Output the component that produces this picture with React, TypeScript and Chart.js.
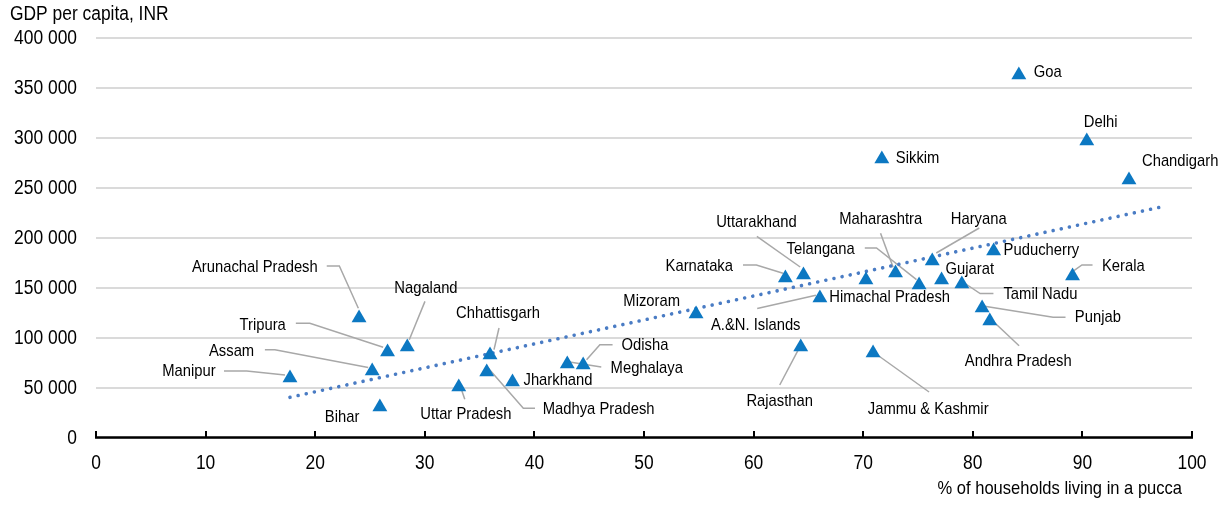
import React, { useEffect, useRef } from 'react';
import { Chart, registerables } from 'chart.js';

Chart.register(...registerables);

// ---------- data ----------
const states = [
  'Manipur', 'Arunachal Pradesh', 'Bihar', 'Assam', 'Tripura', 'Nagaland',
  'Uttar Pradesh', 'Chhattisgarh', 'Madhya Pradesh', 'Jharkhand', 'Meghalaya', 'Odisha',
  'Mizoram', 'Karnataka', 'Uttarakhand', 'Rajasthan', 'A.&N. Islands', 'Himachal Pradesh',
  'Jammu & Kashmir', 'Maharashtra', 'Telangana', 'Haryana', 'Gujarat', 'Tamil Nadu',
  'Punjab', 'Andhra Pradesh', 'Puducherry', 'Kerala', 'Sikkim', 'Goa', 'Delhi', 'Chandigarh',
];
const puccaShare = [
  17.7, 24.0, 25.9, 25.2, 26.6, 28.4,
  33.1, 35.95, 35.65, 38.0, 43.0, 44.45,
  54.75, 62.9, 64.55, 64.3, 66.05, 70.25,
  70.9, 72.95, 75.1, 76.3, 77.15, 79.0,
  80.85, 81.55, 81.9, 89.1, 71.7, 84.2, 90.4, 94.25,
];
const gdpPerCapita = [
  60000, 120000, 31000, 67000, 86000, 91000,
  51000, 83000, 66000, 56000, 74000, 73000,
  124000, 160000, 163000, 91000, 140000, 158000,
  85000, 165000, 153000, 177000, 158000, 154000,
  130000, 117000, 187000, 162000, 279000, 363000, 297000, 258000,
];
const trendShare = [17.7, 97.3];
const trendGdp = [40700, 231300];

const xTickValues = [0, 10, 20, 30, 40, 50, 60, 70, 80, 90, 100];
const yTickValues = [0, 50000, 100000, 150000, 200000, 250000, 300000, 350000, 400000];

const yTitle = 'GDP per capita, INR';
const xTitle = '% of households living in a pucca';

// ---------- label layout (pixel offsets from the marker) ----------
type Lbl = { t: [number, number, 'l' | 'r']; l?: [number, number][] };
const labelLayout: Record<string, Lbl> = {
  'Goa': { t: [15, -1, 'l'] },
  'Delhi': { t: [-3, -17, 'l'] },
  'Chandigarh': { t: [13, -17, 'l'] },
  'Sikkim': { t: [14, 1, 'l'] },
  'Haryana': { t: [18.5, -39.7, 'l'], l: [[47, -31], [4, -6]] },
  'Maharashtra': { t: [-56.4, -51.7, 'l'], l: [[-15, -37.7], [-2.4, -3.7]] },
  'Telangana': { t: [-64.3, -33.3, 'r'], l: [[-54.3, -35], [-42.6, -35], [-2.6, -3.3]] },
  'Karnataka': { t: [-52.4, -10, 'r'], l: [[-42.4, -11], [-29, -11], [-2.4, -2.7]] },
  'Uttarakhand': { t: [-87.3, -50.6, 'l'], l: [[-46.6, -36.6], [-3.3, -6]] },
  'Himachal Pradesh': { t: [-36.7, 19.6, 'l'] },
  'A.&N. Islands': { t: [-109, 29.3, 'l'], l: [[-62.7, 12.6], [-4, -0.7]] },
  'Mizoram': { t: [-16, -10.7, 'r'] },
  'Rajasthan': { t: [-54.3, 56.7, 'l'], l: [[-21, 40], [-1.7, 3.3]] },
  'Jammu & Kashmir': { t: [-5.3, 58, 'l'], l: [[56, 41], [3, 3]] },
  'Gujarat': { t: [4, -8.3, 'l'] },
  'Puducherry': { t: [10, 1.4, 'l'] },
  'Kerala': { t: [29.4, -7.3, 'l'], l: [[20, -9], [9.4, -9], [0, -2.3]] },
  'Tamil Nadu': { t: [41.6, 12.3, 'l'], l: [[31.6, 11.6], [18.3, 11.6], [1, 0]] },
  'Punjab': { t: [92.7, 11.3, 'l'], l: [[83.4, 11.3], [71, 11.3], [1, 0]] },
  'Andhra Pradesh': { t: [-25, 42.4, 'l'], l: [[29.3, 26.7], [1.7, 0.7]] },
  'Arunachal Pradesh': { t: [-41.3, -48.7, 'r'], l: [[-32.3, -50], [-19.7, -50], [-0.7, -7.7]] },
  'Nagaland': { t: [-13, -57, 'l'], l: [[17.7, -43.6], [2, -5.3]] },
  'Tripura': { t: [-101.7, -25, 'r'], l: [[-91.7, -26.7], [-77.7, -26.7], [-4.4, -2.7]] },
  'Assam': { t: [-118, -17.6, 'r'], l: [[-107.3, -19.3], [-97.3, -19.3], [-4, -1.6]] },
  'Manipur': { t: [-74.3, -4.3, 'r'], l: [[-66, -5], [-43.3, -5], [-5, -1]] },
  'Bihar': { t: [-55, 12.7, 'l'] },
  'Uttar Pradesh': { t: [52.7, 29, 'r'], l: [[6, 14.3], [1.7, 1.7]] },
  'Chhattisgarh': { t: [-34, -39.3, 'l'], l: [[9, -25], [4, -3.3]] },
  'Madhya Pradesh': { t: [56, 39, 'l'], l: [[48.3, 38.3], [36.6, 38.3], [1.6, -1.7]] },
  'Jharkhand': { t: [11, 0, 'l'] },
  'Meghalaya': { t: [43.3, 6, 'l'], l: [[34, 5], [2.3, 0]] },
  'Odisha': { t: [38.4, -17.3, 'l'], l: [[29.4, -18.3], [16.7, -18.3], [3.4, -3.3]] },
};

// ---------- styles ----------
const FONT = '"Liberation Sans", Arial, sans-serif';
const SX = 0.87;
const MARKER = '#0C78C2';
const TREND = '#4A7CC4';
const GRID = '#DADADA';
const LEADER = '#A8A8A8';

const fmt = (n: number) => String(n).replace(/\B(?=(\d{3})+(?!\d))/g, ' ');

function drawText(ctx: CanvasRenderingContext2D, text: string, x: number, y: number, size: number, align: CanvasTextAlign) {
  ctx.save();
  ctx.font = `${size}px ${FONT}`;
  ctx.fillStyle = '#000';
  ctx.textBaseline = 'middle';
  ctx.textAlign = align;
  ctx.translate(x, y);
  ctx.scale(SX, 1);
  ctx.fillText(text, 0, 0);
  ctx.restore();
}

const decorPlugin = {
  id: 'decor',
  beforeDatasetsDraw(chart: any) {
    const ctx: CanvasRenderingContext2D = chart.ctx;
    const xs = chart.scales.x;
    const ys = chart.scales.y;
    const y0 = ys.getPixelForValue(0);
    // axis line
    ctx.save();
    ctx.strokeStyle = '#000';
    ctx.lineWidth = 2.5;
    ctx.beginPath();
    ctx.moveTo(xs.left - 1, y0 - 0.5);
    ctx.lineTo(xs.right + 1, y0 - 0.5);
    ctx.stroke();
    ctx.lineWidth = 2;
    xTickValues.forEach((v) => {
      const x = Math.round(xs.getPixelForValue(v));
      ctx.beginPath();
      ctx.moveTo(x, y0 - 7);
      ctx.lineTo(x, y0);
      ctx.stroke();
    });
    // leader lines
    ctx.strokeStyle = LEADER;
    ctx.lineWidth = 1.5;
    states.forEach((s, i) => {
      const lay = labelLayout[s];
      if (!lay || !lay.l) return;
      const px = xs.getPixelForValue(puccaShare[i]);
      const py = ys.getPixelForValue(gdpPerCapita[i]) - 2;
      ctx.beginPath();
      lay.l.forEach(([dx, dy], k) => {
        if (k === 0) ctx.moveTo(px + dx, py + dy);
        else ctx.lineTo(px + dx, py + dy);
      });
      ctx.stroke();
    });
    ctx.restore();
  },
  afterDatasetsDraw(chart: any) {
    const ctx: CanvasRenderingContext2D = chart.ctx;
    const xs = chart.scales.x;
    const ys = chart.scales.y;
    // tick labels
    yTickValues.forEach((v) => {
      drawText(ctx, fmt(v), xs.left - 19, ys.getPixelForValue(v), 20, 'right');
    });
    xTickValues.forEach((v) => {
      drawText(ctx, String(v), xs.getPixelForValue(v), ys.bottom + 25, 20, 'center');
    });
    drawText(ctx, yTitle, 10, 14.5, 20, 'left');
    drawText(ctx, xTitle, xs.right - 10, ys.bottom + 51, 19, 'right');
    // point labels
    states.forEach((s, i) => {
      const lay = labelLayout[s];
      if (!lay) return;
      const px = xs.getPixelForValue(puccaShare[i]);
      const py = ys.getPixelForValue(gdpPerCapita[i]) - 2;
      const [dx, dy, al] = lay.t;
      drawText(ctx, s, px + dx, py + dy, 17, al === 'r' ? 'right' : 'left');
    });
  },
};

export default function App() {
  const ref = useRef<HTMLCanvasElement | null>(null);
  useEffect(() => {
    if (!ref.current) return;
    const chart = new Chart(ref.current, {
      type: 'scatter',
      data: {
        datasets: [
          {
            label: 'trend',
            data: trendShare.map((x, i) => ({ x, y: trendGdp[i] })),
            showLine: true,
            borderColor: TREND,
            borderWidth: 3.6,
            borderDash: [0.01, 8.3],
            borderCapStyle: 'round',
            pointRadius: 0,
            fill: false,
            order: 2,
          } as any,
          {
            label: 'states',
            data: puccaShare.map((x, i) => ({ x, y: gdpPerCapita[i] })),
            pointStyle: 'triangle',
            pointRadius: 8.6,
            pointBackgroundColor: MARKER,
            pointBorderColor: MARKER,
            pointBorderWidth: 0,
            showLine: false,
            order: 1,
          } as any,
        ],
      },
      options: {
        responsive: false,
        animation: false,
        layout: { padding: { left: 96, right: 40, top: 38, bottom: 67 } },
        plugins: { legend: { display: false }, tooltip: { enabled: false } },
        scales: {
          x: {
            type: 'linear',
            min: 0,
            max: 100,
            ticks: { display: false, stepSize: 10 },
            grid: { display: false, drawTicks: false },
            border: { display: false },
          },
          y: {
            type: 'linear',
            min: 0,
            max: 400000,
            ticks: { display: false, stepSize: 50000 },
            grid: { color: GRID, lineWidth: 2, drawTicks: false },
            border: { display: false },
          },
        },
      },
      plugins: [decorPlugin],
    });
    return () => chart.destroy();
  }, []);
  return (
    <div style={{ position: 'absolute', left: 0, top: 0, width: 1232, height: 505, background: '#fff' }}>
      <canvas ref={ref} width={1232} height={505} style={{ display: 'block' }} />
    </div>
  );
}
